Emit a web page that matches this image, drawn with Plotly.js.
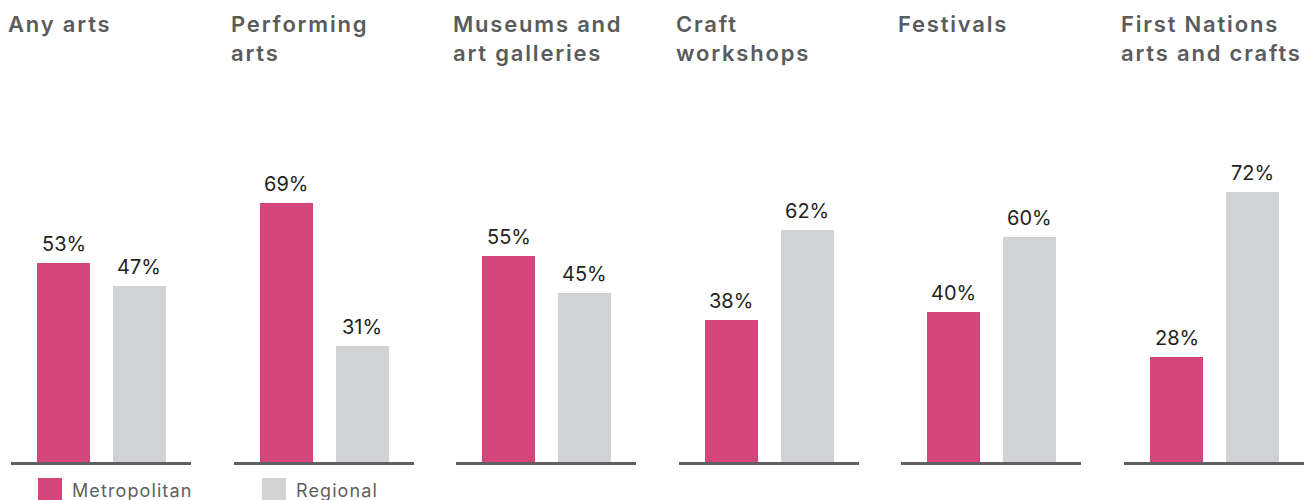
<!DOCTYPE html>
<html>
<head>
<meta charset="utf-8">
<script src="https://cdn.plot.ly/plotly-3.0.1.min.js"></script>
<style>html,body{margin:0;padding:0;background:#fff;}#chart{width:1314px;height:500px;}</style>
</head>
<body>
<div id="chart"></div>
<script>
// ---- data ----
const panelTitles = ["Any arts", "Performing<br>arts", "Museums and<br>art galleries", "Craft<br>workshops", "Festivals", "First Nations<br>arts and crafts"];
const seriesNames = ["Metropolitan", "Regional"];
const metropolitan = [53, 69, 55, 38, 40, 28];
const regional = [47, 31, 45, 62, 60, 72];

// ---- style ----
const W = 1314, H = 500;
const pink = "#d4457c", grey = "#d1d2d4";
const titleColor = "#5a5b5d", labelColor = "#231f20", axisColor = "#606062";
const fontFam = "Inter, 'Open Sans', sans-serif";
const panelLeftPx = 11, panelStepPx = 222.6, panelWidthPx = 180;
const yBottom = (H - 462) / H, yTop = (H - 87) / H;

const data = [];
const layout = {
  width: W, height: H,
  margin: {l: 0, r: 0, t: 0, b: 0},
  paper_bgcolor: "#fff", plot_bgcolor: "#fff",
  showlegend: false,
  bargap: 0,
  annotations: [], shapes: []
};
const spacing = []; // letter-spacing per annotation (px), applied after render

panelTitles.forEach((t, i) => {
  const n = i + 1;
  const xa = n === 1 ? "x" : "x" + n, ya = n === 1 ? "y" : "y" + n;
  const xk = n === 1 ? "xaxis" : "xaxis" + n, yk = n === 1 ? "yaxis" : "yaxis" + n;
  const l = panelLeftPx + panelStepPx * i;
  const vals = [metropolitan[i], regional[i]];
  data.push({
    type: "bar", x: seriesNames, y: vals, xaxis: xa, yaxis: ya,
    width: 0.697,
    marker: {color: [pink, grey], line: {width: 0}},
    hoverinfo: "skip"
  });
  layout[xk] = {
    domain: [l / W, (l + panelWidthPx) / W], anchor: ya,
    type: "category", range: [-0.691, 1.678],
    showline: true, linecolor: axisColor, linewidth: 3,
    showticklabels: false, ticks: "", showgrid: false, zeroline: false, fixedrange: true
  };
  layout[yk] = {
    domain: [yBottom, yTop], anchor: xa, range: [0, 100],
    visible: false, showgrid: false, zeroline: false, fixedrange: true
  };
  vals.forEach((v, j) => {
    layout.annotations.push({
      x: seriesNames[j], y: v, xref: xa, yref: ya,
      text: v + "%", showarrow: false, yanchor: "bottom", yshift: 5,
      font: {family: fontFam, size: 20, color: labelColor}
    });
    spacing.push(0);
  });
  layout.annotations.push({
    x: (l - 5) / W, y: 1 - 9 / H, xref: "paper", yref: "paper",
    xanchor: "left", yanchor: "top", align: "left",
    text: t, showarrow: false,
    font: {family: fontFam, size: 22, color: titleColor, weight: 600}
  });
  spacing.push(1.8);
});

// legend
const legendItems = [{name: seriesNames[0], color: pink, x: 38}, {name: seriesNames[1], color: grey, x: 262}];
legendItems.forEach(it => {
  layout.shapes.push({
    type: "rect", xref: "paper", yref: "paper",
    x0: it.x / W, x1: (it.x + 24) / W, y0: 0, y1: (H - 478) / H,
    fillcolor: it.color, line: {width: 0}
  });
  layout.annotations.push({
    x: (it.x + 32) / W, y: (H - 490) / H, xref: "paper", yref: "paper",
    xanchor: "left", yanchor: "middle", text: it.name, showarrow: false,
    font: {family: fontFam, size: 18, color: "#5e5f61"}
  });
  spacing.push(1.1);
});

Plotly.newPlot("chart", data, layout, {displayModeBar: false, staticPlot: true}).then(gd => {
  gd.querySelectorAll(".annotation").forEach(a => {
    const idx = +a.getAttribute("data-index");
    const s = spacing[idx];
    if (s) a.querySelectorAll("text").forEach(tx => {
      // keep the left edge fixed: measure first, then anchor at start
      const bb = tx.getBBox();
      tx.setAttribute("text-anchor", "start");
      tx.setAttribute("x", bb.x);
      tx.querySelectorAll("tspan").forEach(ts => { if (ts.hasAttribute("x")) ts.setAttribute("x", bb.x); });
      tx.style.letterSpacing = s + "px";
    });
  });
});
</script>
</body>
</html>
